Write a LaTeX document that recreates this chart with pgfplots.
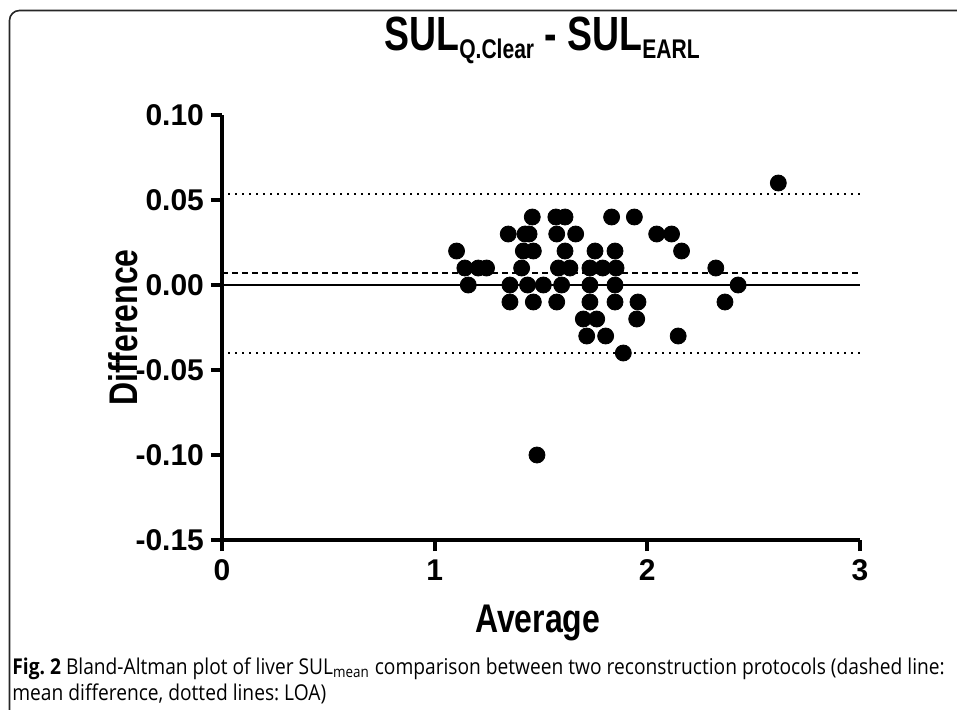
\documentclass[border=0pt]{standalone}
\usepackage{fontspec}
\setmainfont{Liberation Sans}
\newfontfamily\prism[FakeStretch=0.8]{Liberation Sans}
\newfontfamily\prismt[FakeStretch=0.78]{Liberation Sans}
\newfontfamily\capfont[FakeStretch=0.88]{Open Sans}
\usepackage{pgfplots}
\pgfplotsset{compat=1.18}
\frenchspacing

\begin{document}
\begin{tikzpicture}
\begin{axis}[
    scale only axis,
    width=319pt, height=212.5pt,
    xmin=0, xmax=3, ymin=-0.15, ymax=0.10,
    axis x line*=bottom, axis y line*=left,
    axis line style={line width=2pt},
    tick align=outside,
    major tick length=5.5pt,
    every tick/.style={line width=2pt, black},
    xtick={0,1,2,3},
    ytick={-0.15,-0.1,-0.05,0,0.05,0.1},
    minor tick num=0,
    /pgf/number format/assume math mode=true,
    yticklabel style={/pgf/number format/fixed, /pgf/number format/fixed zerofill, /pgf/number format/precision=2},
    ticklabel style={font=\fontsize{15}{17}\selectfont\bfseries},
    xticklabel style={text height=11pt, text depth=0pt},
    xlabel={Average},
    ylabel={Difference},
    xlabel style={font=\prism\fontsize{20}{22}\selectfont\bfseries, at={(axis description cs:0.495,-0.2165)}, anchor=base, inner sep=0pt},
    ylabel style={font=\prism\fontsize{20}{22}\selectfont\bfseries, at={(axis description cs:-0.1332,0.5)}, anchor=base, inner sep=0pt},
    title={SUL\raisebox{-4pt}{\fontsize{13.5}{15}\selectfont Q.Clear} - SUL\raisebox{-4pt}{\fontsize{13.5}{15}\selectfont EARL}},
    title style={font=\prismt\fontsize{24}{26}\selectfont\bfseries, at={(axis description cs:0.5016,1.124)}, anchor=base, inner sep=0pt, yshift=0pt},
    clip=false,
]
% zero line, mean difference, limits of agreement
\addplot[no marks, line width=1pt] coordinates {(0,0) (3,0)};
\addplot[no marks, line width=0.8pt, dash pattern=on 3pt off 2pt] coordinates {(0,0.007) (3,0.007)};
\addplot[no marks, line width=0.7pt, dash pattern=on 0.6pt off 2.9pt] coordinates {(0.03,0.0535) (3,0.0535)};
\addplot[no marks, line width=0.7pt, dash pattern=on 0.6pt off 2.9pt] coordinates {(0.03,-0.040) (3,-0.040)};
% differences vs averages
\addplot[only marks, mark=*, mark size=4pt, black] coordinates {
(1.103,0.02) (1.142,0.01) (1.205,0.01) (1.244,0.01) (1.158,0)
(1.346,0.03) (1.425,0.03) (1.444,0.03) (1.574,0.03) (1.663,0.03) (2.044,0.03) (2.114,0.03)
(1.459,0.04) (1.570,0.04) (1.613,0.04) (1.832,0.04) (1.939,0.04)
(1.417,0.02) (1.464,0.02) (1.613,0.02) (1.754,0.02) (1.848,0.02) (2.161,0.02)
(1.409,0.01) (1.582,0.01) (1.636,0.01) (1.730,0.01) (1.790,0.01) (1.853,0.01) (2.322,0.01)
(1.354,0) (1.437,0) (1.511,0) (1.597,0) (1.730,0) (1.848,0) (2.427,0)
(1.354,-0.01) (1.464,-0.01) (1.574,-0.01) (1.730,-0.01) (1.848,-0.01) (1.956,-0.01) (2.365,-0.01)
(1.699,-0.02) (1.762,-0.02) (1.950,-0.02)
(1.715,-0.03) (1.804,-0.03) (2.145,-0.03)
(1.887,-0.04) (1.481,-0.10) (2.616,0.06)
};
\end{axis}
% panel frame and caption
\draw[line width=0.8pt, black!85, rounded corners=5pt] (-106.25pt,-120pt) -- (-106.25pt,264.75pt) -- (420pt,264.75pt);
\node[anchor=base west, inner sep=0pt, align=left, font=\capfont\fontsize{10.9}{13}\selectfont] at (-105pt,-80pt)
  {\textbf{Fig. 2} Bland-Altman plot of liver SUL\textsubscript{mean} comparison between two reconstruction protocols (dashed line:\\mean difference, dotted lines: LOA)};
\pgfresetboundingbox
\useasboundingbox (-111pt,-84.5pt) rectangle (367.5pt,270pt);
\end{tikzpicture}
\end{document}
